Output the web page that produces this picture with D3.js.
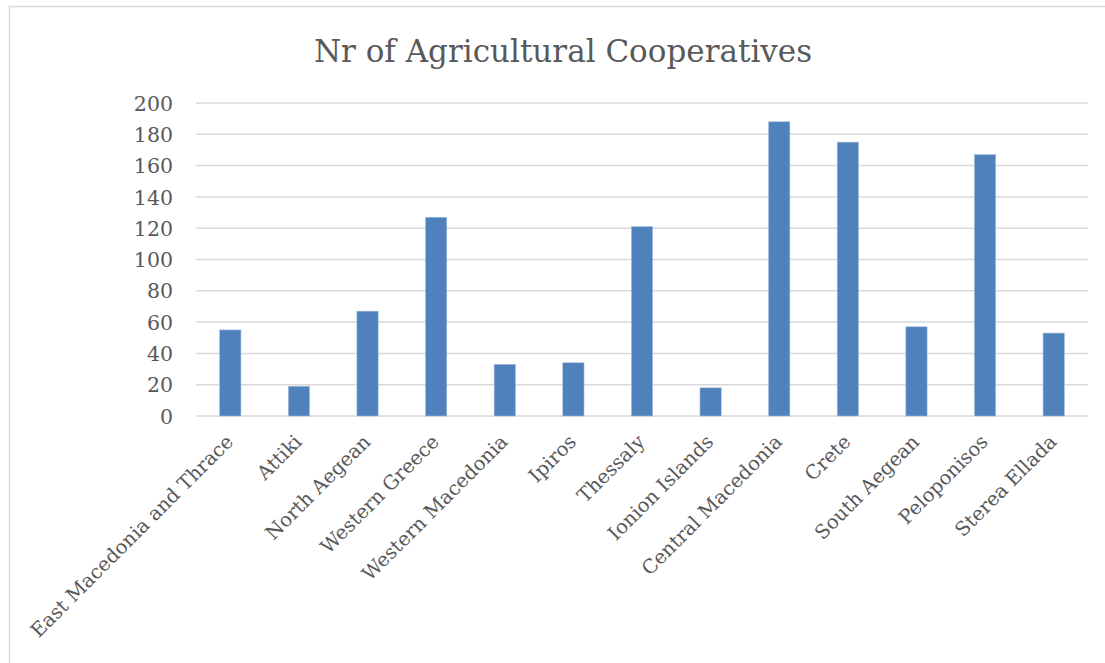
<!DOCTYPE html>
<html>
<head>
<meta charset="utf-8">
<script src="https://cdn.jsdelivr.net/npm/d3@7"></script>
<style>
  body { margin: 0; background: #fff; }
  text { font-family: "DejaVu Serif", "Liberation Serif", serif; }
</style>
</head>
<body>
<svg id="chart" width="1105" height="663"></svg>
<script>
const regions = [
  'East Macedonia and Thrace', 'Attiki', 'North Aegean', 'Western Greece',
  'Western Macedonia', 'Ipiros', 'Thessaly', 'Ionion Islands',
  'Central Macedonia', 'Crete', 'South Aegean', 'Peloponisos', 'Sterea Ellada'
]
const cooperatives = [55, 19, 67, 127, 33, 34, 121, 18, 188, 175, 57, 167, 53]
const yTicks = [0, 20, 40, 60, 80, 100, 120, 140, 160, 180, 200]

const svg = d3.select('#chart')
const margin = { top: 103, right: 17, bottom: 247, left: 196 }
const width = 1105 - margin.left - margin.right
const height = 663 - margin.top - margin.bottom

// chart border, cropped at right and bottom like the source
svg.append('rect')
  .attr('x', 9.5).attr('y', 6.5)
  .attr('width', 1120).attr('height', 700)
  .attr('fill', 'none').attr('stroke', '#d9d9d9').attr('stroke-width', 1.5)

svg.append('text')
  .attr('x', 563).attr('y', 62)
  .attr('text-anchor', 'middle')
  .attr('font-size', 31)
  .attr('fill', '#595959')
  .text('Nr of Agricultural Cooperatives')

const g = svg.append('g').attr('transform', `translate(${margin.left},${margin.top})`)

const x = d3.scaleBand().domain(regions).range([0, width]).paddingInner(0.69).paddingOuter(0.345)
const y = d3.scaleLinear().domain([0, 200]).range([height, 0])

// gridlines
g.append('g')
  .selectAll('line')
  .data(yTicks)
  .enter()
  .append('line')
  .attr('x1', 0).attr('x2', width)
  .attr('y1', d => y(d)).attr('y2', d => y(d))
  .attr('stroke', '#d9d9d9').attr('stroke-width', 1.5)

// y axis labels
const yAxis = g.append('g')
  .attr('transform', 'translate(-23,0)')
  .call(d3.axisLeft(y).tickValues(yTicks).tickSize(0).tickPadding(0))
yAxis.select('.domain').remove()
yAxis.selectAll('text')
  .attr('font-size', 20.5)
  .attr('fill', '#595959')
  .attr('dy', '0.35em')
  .attr('text-anchor', 'end')

g.append('g')
  .selectAll('rect')
  .data(cooperatives)
  .enter()
  .append('rect')
  .attr('x', (_, i) => x(regions[i]))
  .attr('y', d => y(d))
  .attr('width', x.bandwidth())
  .attr('height', d => y(0) - y(d))
  .attr('fill', '#4f81bd')
  .attr('stroke', '#a6bddb')
  .attr('stroke-width', 0.6)

// category labels, rotated
const xAxis = g.append('g')
  .attr('transform', `translate(0,${height})`)
  .call(d3.axisBottom(x).tickSize(0).tickPadding(0))
xAxis.select('.domain').remove()
xAxis.selectAll('text')
  .attr('font-size', 19.5)
  .attr('fill', '#595959')
  .attr('text-anchor', 'end')
  .attr('transform', 'translate(4,27) rotate(-45)')
  .attr('dy', 0)
  .attr('y', 0)
</script>
</body>
</html>
